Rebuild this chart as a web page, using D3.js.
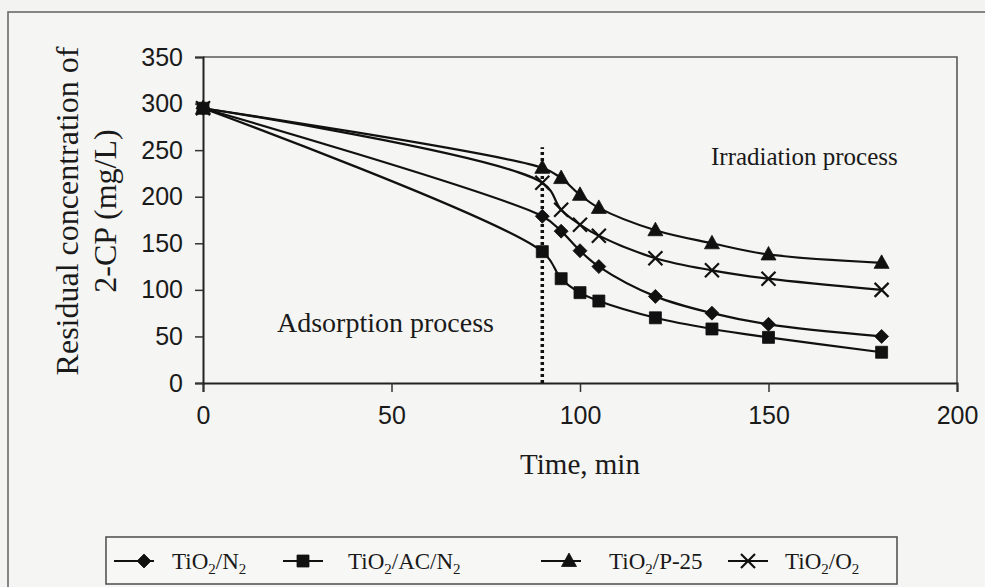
<!DOCTYPE html>
<html>
<head>
<meta charset="utf-8">
<script src="https://cdn.jsdelivr.net/npm/d3@7"></script>
<style>
  html, body { margin: 0; padding: 0; background: #f3f3f1; }
  svg { display: block; }
</style>
</head>
<body>
<svg id="chart" width="985" height="587"></svg>
<script>
// Sampling times (min) and residual 2-CP concentration (mg/L) for each catalyst
const times = [0, 90, 95, 100, 105, 120, 135, 150, 180];
const tio2N2 = [295, 179, 163, 142, 125, 93, 75, 63, 50];
const tio2AcN2 = [295, 141, 112, 97, 88, 70, 58, 49, 33];
const tio2P25 = [295, 231, 220, 202, 188, 164, 150, 138, 129];
const tio2O2 = [295, 215, 186, 170, 158, 134, 121, 112, 100];

const xTicks = [0, 50, 100, 150, 200];
const yTicks = [0, 50, 100, 150, 200, 250, 300, 350];

// Start of irradiation (dark adsorption ends here)
const lampOnTime = 90;
const lampLineTop = 253;

const seriesList = [
  { name: ["TiO", "2", "/N", "2"], values: tio2N2, marker: "diamond" },
  { name: ["TiO", "2", "/AC/N", "2"], values: tio2AcN2, marker: "square" },
  { name: ["TiO", "2", "/P-25"], values: tio2P25, marker: "triangle" },
  { name: ["TiO", "2", "/O", "2"], values: tio2O2, marker: "cross" }
];

const svg = d3.select("#chart");
const serif = "'Liberation Serif', 'Times New Roman', serif";
const sans = "'Liberation Sans', Arial, sans-serif";

// Outer figure frame
svg.append("rect")
  .attr("x", 8).attr("y", 12).attr("width", 1000).attr("height", 600)
  .attr("fill", "#f5f5f3").attr("stroke", "#6a6a6a").attr("stroke-width", 1.6);

const plot = { left: 203, right: 957, top: 57, bottom: 383 };

const x = d3.scaleLinear().domain([0, 200]).range([plot.left, plot.right]);
const y = d3.scaleLinear().domain([0, 350]).range([plot.bottom, plot.top]);

// Plot area border (top and right)
svg.append("path")
  .attr("d", `M${plot.left},${plot.top}H${plot.right}V${plot.bottom}`)
  .attr("fill", "none").attr("stroke", "#5a5a5a").attr("stroke-width", 1.6);

// Axes
const xAxis = svg.append("g")
  .attr("transform", `translate(0,${plot.bottom})`)
  .call(d3.axisBottom(x).tickValues(xTicks).tickSize(9).tickPadding(14).tickFormat(d3.format("d")));
const yAxis = svg.append("g")
  .attr("transform", `translate(${plot.left},0)`)
  .call(d3.axisLeft(y).tickValues(yTicks).tickSize(8).tickPadding(12).tickFormat(d3.format("d")));

[xAxis, yAxis].forEach(g => {
  g.select(".domain").attr("stroke", "#222").attr("stroke-width", 2);
  g.selectAll(".tick line").attr("stroke", "#333").attr("stroke-width", 1.5);
  g.selectAll(".tick text")
    .attr("fill", "#1a1a1a")
    .style("font-family", sans)
    .style("font-size", "25px");
});

// Axis titles
svg.append("text")
  .attr("x", 580).attr("y", 474)
  .attr("text-anchor", "middle")
  .style("font-family", serif).style("font-size", "29px").attr("fill", "#1a1a1a")
  .text("Time, min");

const yTitle = svg.append("text")
  .attr("transform", "translate(0,211) rotate(-90)")
  .attr("text-anchor", "middle")
  .style("font-family", serif).style("font-size", "32px").attr("fill", "#1a1a1a");
yTitle.append("tspan").attr("x", 0).attr("y", 78).text("Residual concentration of");
yTitle.append("tspan").attr("x", 0).attr("y", 116).text("2-CP (mg/L)");

// Process annotations
svg.append("text")
  .attr("x", 277).attr("y", 332)
  .style("font-family", serif).style("font-size", "28px").attr("fill", "#1a1a1a")
  .text("Adsorption process");
svg.append("text")
  .attr("x", 711).attr("y", 165)
  .style("font-family", serif).style("font-size", "25px").attr("fill", "#1a1a1a")
  .text("Irradiation process");

// Dotted line marking lamp switch-on
svg.append("line")
  .attr("x1", x(lampOnTime)).attr("x2", x(lampOnTime))
  .attr("y1", y(0)).attr("y2", y(lampLineTop))
  .attr("stroke", "#111").attr("stroke-width", 3.5)
  .attr("stroke-dasharray", "3,3");

// Marker shapes
function markerPath(type) {
  switch (type) {
    case "diamond": return "M0,-7L7,0L0,7L-7,0Z";
    case "square": return "M-6,-6H6V6H-6Z";
    case "triangle": return "M0,-8L7.5,5.5H-7.5Z";
    case "cross": return "M-7,-7L7,7M7,-7L-7,7";
  }
}
function drawMarker(g, type, cx, cy) {
  const p = g.append("path")
    .attr("transform", `translate(${cx},${cy})`)
    .attr("d", markerPath(type));
  if (type === "cross") p.attr("fill", "none").attr("stroke", "#111").attr("stroke-width", 2.2);
  else p.attr("fill", "#111").attr("stroke", "#111").attr("stroke-width", 0.8);
}

const line = d3.line()
  .x(d => x(d[0]))
  .y(d => y(d[1]))
  .curve(d3.curveCatmullRom.alpha(0.5));

const marks = svg.append("g");
seriesList.forEach(s => {
  const pts = times.map((t, i) => [t, s.values[i]]);
  marks.append("path")
    .attr("d", line(pts))
    .attr("fill", "none").attr("stroke", "#111").attr("stroke-width", 2.2);
});
seriesList.forEach(s => {
  times.forEach((t, i) => drawMarker(marks, s.marker, x(t), y(s.values[i])));
});

// Legend
const legend = svg.append("g");
legend.append("rect")
  .attr("x", 106).attr("y", 537).attr("width", 791).attr("height", 47)
  .attr("fill", "#f7f7f5").attr("stroke", "#555").attr("stroke-width", 1.6);

const legendLineCenters = [134, 303, 561, 748];
const legendMarkerOffsets = [10, 0, 8, 0];
const legendTextStarts = [172, 348, 609, 785];
seriesList.forEach((s, i) => {
  const cx = legendLineCenters[i];
  const cy = 561;
  legend.append("line")
    .attr("x1", cx - 20).attr("x2", cx + 20).attr("y1", cy).attr("y2", cy)
    .attr("stroke", "#111").attr("stroke-width", 2.2);
  drawMarker(legend, s.marker, cx + legendMarkerOffsets[i], cy);
  const t = legend.append("text")
    .attr("x", legendTextStarts[i]).attr("y", 569)
    .style("font-family", serif).style("font-size", "23px").attr("fill", "#1a1a1a");
  s.name.forEach((part, k) => {
    const ts = t.append("tspan").text(part);
    if (k % 2 === 1) ts.attr("dy", 5).style("font-size", "15px");
    else if (k > 0) ts.attr("dy", -5);
  });
});
</script>
</body>
</html>
